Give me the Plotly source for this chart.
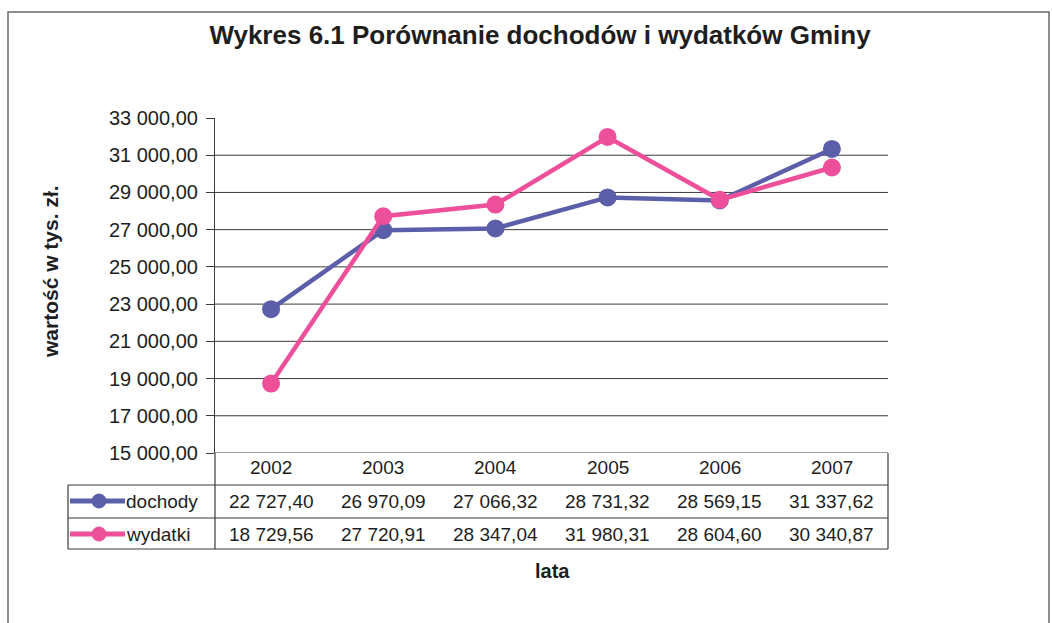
import plotly.graph_objects as go

years = ["2002", "2003", "2004", "2005", "2006", "2007"]
dochody = [22727.40, 26970.09, 27066.32, 28731.32, 28569.15, 31337.62]
wydatki = [18729.56, 27720.91, 28347.04, 31980.31, 28604.60, 30340.87]
y_ticks = [15000, 17000, 19000, 21000, 23000, 25000, 27000, 29000, 31000, 33000]

series = [
    ("dochody", dochody, "#5b5ea8"),
    ("wydatki", wydatki, "#ee4f9b"),
]

W, H = 1052, 623
L, R, T, B = 215, 888, 118, 453  # plot area in pixels
FONT = "Arial, Liberation Sans, sans-serif"
TXT = "#1e1e1e"
LINE = "#3a3a3a"


def px(x):
    return (x - L) / (R - L)


def py(y):
    return (B - y) / (B - T)


def fmt(v):
    return f"{v:,.2f}".replace(",", " ").replace(".", ",")


fig = go.Figure()
for name, vals, color in series:
    fig.add_trace(
        go.Scatter(
            x=years,
            y=vals,
            mode="lines+markers",
            name=name,
            line={"color": color, "width": 4.5},
            marker={"color": color, "size": 18},
            cliponaxis=False,
        )
    )

# gridlines (none at the top value)
for v in y_ticks[:-1]:
    fig.add_hline(y=v, line_width=1, line_color=LINE, layer="below")

# data table below the plot
row_y = [467, 501, 534]
for i, yr in enumerate(years):
    fig.add_annotation(x=i, xref="x", y=py(row_y[0]), yref="paper", text=yr,
                       xanchor="center", yanchor="middle",
                       showarrow=False, font={"size": 19, "color": TXT})
for r, (name, vals, color) in enumerate(series):
    yc = py(row_y[r + 1])
    for i, v in enumerate(vals):
        fig.add_annotation(x=i, xref="x", y=yc, yref="paper", text=fmt(v),
                           xanchor="center", yanchor="middle",
                           showarrow=False, font={"size": 19, "color": TXT})
    fig.add_annotation(x=px(124), xref="paper", y=yc, yref="paper", text=name,
                       xanchor="left", yanchor="middle", showarrow=False,
                       font={"size": 19, "color": TXT})
    fig.add_shape(type="line", xref="paper", yref="paper",
                  x0=px(70), x1=px(125), y0=yc, y1=yc,
                  line={"color": color, "width": 5})
    fig.add_shape(type="circle", xref="paper", yref="paper",
                  xsizemode="pixel", ysizemode="pixel",
                  xanchor=px(99), yanchor=yc, x0=-7, x1=7, y0=-7, y1=7,
                  fillcolor=color, line={"color": color, "width": 1})

for yl in [485, 518, 549]:
    fig.add_shape(type="line", xref="paper", yref="paper",
                  x0=px(68), x1=1, y0=py(yl), y1=py(yl),
                  line={"color": LINE, "width": 1.2})
for xl, ytop in [(L, B), (R, B), (68, 485)]:
    fig.add_shape(type="line", xref="paper", yref="paper",
                  x0=px(xl), x1=px(xl), y0=py(ytop), y1=py(549),
                  line={"color": LINE, "width": 1.2})

# outer chart border
fig.add_shape(type="rect", xref="paper", yref="paper",
              x0=px(8), x1=px(1049), y0=py(660), y1=py(12),
              line={"color": "#6a6a6a", "width": 1.5})

fig.add_annotation(x=px(552), xref="paper", y=py(571), yref="paper", text="<b>lata</b>",
                   xanchor="center", yanchor="middle",
                   showarrow=False, font={"size": 20, "color": TXT})
fig.add_annotation(x=px(50), xref="paper", y=py(272), yref="paper",
                   text="<b>wartość w tys. zł.</b>", textangle=-90,
                   xanchor="center", yanchor="middle",
                   showarrow=False, font={"size": 21, "color": TXT})

fig.update_layout(
    title={"text": "<b>Wykres 6.1 Porównanie dochodów i wydatków Gminy</b>",
           "x": 540 / W, "xanchor": "center", "y": 1 - 35 / H, "yanchor": "middle",
           "font": {"size": 26, "color": TXT, "family": FONT}},
    width=W,
    height=H,
    margin={"l": L, "r": W - R, "t": T, "b": H - B},
    plot_bgcolor="white",
    paper_bgcolor="white",
    showlegend=False,
    font={"family": FONT, "color": TXT},
)
fig.update_xaxes(type="category", range=[-0.5, 5.5], showticklabels=False,
                 showgrid=False, zeroline=False, ticks="")
fig.update_yaxes(
    range=[y_ticks[0], y_ticks[-1]],
    tickvals=y_ticks,
    ticktext=[fmt(v) for v in y_ticks],
    ticks="outside", ticklen=8, tickcolor=LINE,
    ticklabelstandoff=4,
    showline=True, linecolor=LINE, linewidth=1.2,
    showgrid=False, zeroline=False,
    tickfont={"size": 20, "color": TXT},
)

fig.write_html("out.html", config={"displayModeBar": False},
               post_script="document.body.style.margin='0';")
